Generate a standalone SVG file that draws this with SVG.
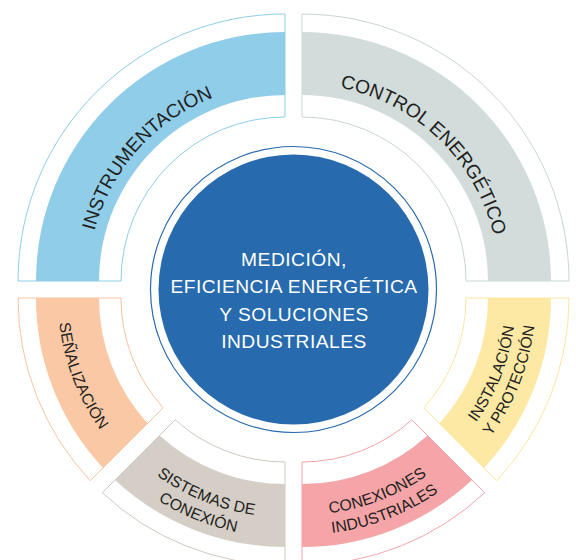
<svg xmlns="http://www.w3.org/2000/svg" xmlns:xlink="http://www.w3.org/1999/xlink" width="576" height="560" viewBox="0 0 576 560">
<style>
.lbl{font-family:"Liberation Sans",Arial,Helvetica,sans-serif;fill:#231F20;}
.top{font-size:19.2px;}
.bot{font-size:15.8px;}
.ctr{font-family:"Liberation Sans",Arial,Helvetica,sans-serif;fill:#FFFFFF;font-size:19.2px;letter-spacing:0.5px;text-anchor:middle;}
.seg{fill:#FFFFFF;stroke-width:1;}
</style>
<defs>
<path id="pInst" d="M88,281 A197,197 0 0 1 285,84"/>
<path id="pCtrl" d="M302,84 A197,197 0 0 1 499,281"/>
<path id="pSen" d="M58,298 A227,227 0 0 0 285,525"/>
<path id="pSis1" d="M66,298 A219,219 0 0 0 285,517"/>
<path id="pSis2" d="M46,298 A239,239 0 0 0 285,537"/>
<path id="pCon1" d="M302,515 A217,217 0 0 0 519,298"/>
<path id="pCon2" d="M302,535 A237,237 0 0 0 539,298"/>
<path id="pIns1" d="M302,512 A214,214 0 0 0 516,298"/>
<path id="pIns2" d="M302,532 A234,234 0 0 0 536,298"/>
</defs>
<g id="connectors"></g>
<g id="instrumentacion">
<path class="seg" stroke="#8FCDE8" d="M18,281 A267,267 0 0 1 285,14 L285,117 A164,164 0 0 0 121,281 Z"/>
<path fill="#8FCDE8" d="M36,281 A249,249 0 0 1 285,32 L285,95 A186,186 0 0 0 99,281 Z"/>
<text class="lbl top"><textPath xlink:href="#pInst" href="#pInst" startOffset="46.3%" text-anchor="middle">INSTRUMENTACIÓN</textPath></text>
</g>
<g id="control-energetico">
<path class="seg" stroke="#CBD5D4" d="M302,14 A267,267 0 0 1 569,281 L466,281 A164,164 0 0 0 302,117 Z"/>
<path fill="#D1DCDB" d="M302,32 A249,249 0 0 1 551,281 L488,281 A186,186 0 0 0 302,95 Z"/>
<text class="lbl top"><textPath xlink:href="#pCtrl" href="#pCtrl" startOffset="48.8%" text-anchor="middle">CONTROL ENERGÉTICO</textPath></text>
</g>
<g id="senalizacion">
<path class="seg" stroke="#FBC3A0" d="M18,298 A267,267 0 0 0 90.29,480.69 L163.18,407.80 A164,164 0 0 1 121,298 Z"/>
<path fill="#FBC8A6" d="M36,298 A249,249 0 0 0 103.03,467.95 L147.60,423.38 A186,186 0 0 1 99,298 Z"/>
<text class="lbl bot"><textPath xlink:href="#pSen" href="#pSen" startOffset="23.3%" text-anchor="middle">SEÑALIZACIÓN</textPath></text>
</g>
<g id="sistemas-de-conexion">
<path class="seg" stroke="#D0C9C1" d="M102.31,492.71 A267,267 0 0 0 285,565 L285,462 A164,164 0 0 1 175.20,419.82 Z"/>
<path fill="#D4CEC6" d="M115.05,479.97 A249,249 0 0 0 285,547 L285,484 A186,186 0 0 1 159.62,435.40 Z"/>
<text class="lbl bot"><textPath xlink:href="#pSis1" href="#pSis1" startOffset="75.6%" text-anchor="middle">SISTEMAS DE</textPath></text>
<text class="lbl bot"><textPath xlink:href="#pSis2" href="#pSis2" startOffset="75.6%" text-anchor="middle">CONEXIÓN</textPath></text>
</g>
<g id="conexiones-industriales">
<path class="seg" stroke="#F5A4A7" d="M302,565 A267,267 0 0 0 484.69,492.71 L411.80,419.82 A164,164 0 0 1 302,462 Z"/>
<path fill="#F5A4A7" d="M302,547 A249,249 0 0 0 471.95,479.97 L427.38,435.40 A186,186 0 0 1 302,484 Z"/>
<text class="lbl bot"><textPath xlink:href="#pCon1" href="#pCon1" startOffset="23.6%" text-anchor="middle">CONEXIONES</textPath></text>
<text class="lbl bot"><textPath xlink:href="#pCon2" href="#pCon2" startOffset="23.6%" text-anchor="middle">INDUSTRIALES</textPath></text>
</g>
<g id="instalacion-y-proteccion">
<path class="seg" stroke="#FCE6A0" d="M496.71,480.69 A267,267 0 0 0 569,298 L466,298 A164,164 0 0 1 423.82,407.80 Z"/>
<path fill="#FDE9A4" d="M483.97,467.95 A249,249 0 0 0 551,298 L488,298 A186,186 0 0 1 439.40,423.38 Z"/>
<text class="lbl bot"><textPath xlink:href="#pIns1" href="#pIns1" startOffset="76%" text-anchor="middle">INSTALACIÓN</textPath></text>
<text class="lbl bot"><textPath xlink:href="#pIns2" href="#pIns2" startOffset="76%" text-anchor="middle">Y PROTECCIÓN</textPath></text>
</g>
<g id="centro">
<circle cx="293.5" cy="289.5" r="143" fill="#FFFFFF" stroke="#276BAE" stroke-width="1.2"/>
<circle cx="293.5" cy="289.5" r="135" fill="#276BAE"/>
<text class="ctr" x="294" y="265.7">MEDICIÓN,</text>
<text class="ctr" x="294" y="293.3">EFICIENCIA ENERGÉTICA</text>
<text class="ctr" x="294" y="320.7">Y SOLUCIONES</text>
<text class="ctr" x="294" y="348.3">INDUSTRIALES</text>
</g>
</svg>
